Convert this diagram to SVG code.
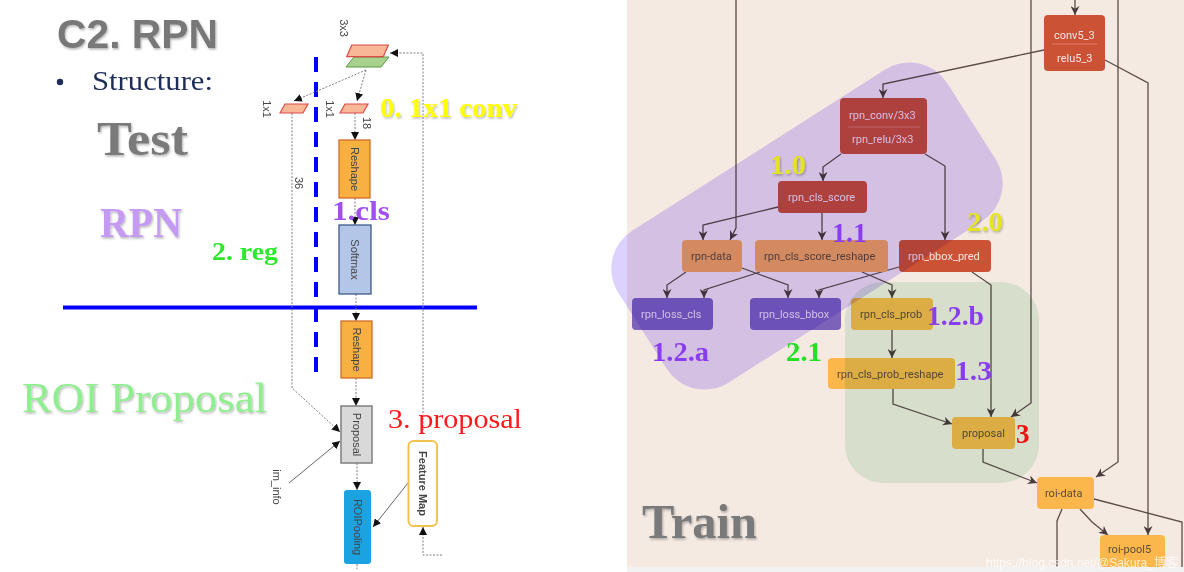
<svg xmlns="http://www.w3.org/2000/svg" width="1184" height="572" viewBox="0 0 1184 572">
<defs>
<style>
.dot{stroke:#7d7d7d;stroke-width:1;stroke-dasharray:2 1.5;fill:none}
.sol{stroke:#555;stroke-width:0.9;fill:none}
.ln{stroke:#5b4b49;stroke-width:1.3;fill:none}
.rt{font-family:"Liberation Sans",Arial,sans-serif;font-size:11px;fill:#444;text-anchor:middle;dominant-baseline:central}
.nt{font-family:Roboto,"Liberation Sans",sans-serif;font-size:11px}
.w{fill:#f4e6e4}
.d{fill:#5e4a3e}
.ser{font-family:"Liberation Serif","DejaVu Serif",serif}
.lbl{font-family:"Liberation Serif","DejaVu Serif",serif;font-weight:bold;font-size:27px}
.div{stroke:#e8a090;stroke-width:0.8;opacity:0.7}
</style>
<marker id="ah" viewBox="0 0 10 10" refX="10" refY="5" markerWidth="8" markerHeight="8" orient="auto" markerUnits="userSpaceOnUse"><path d="M0,0 L10,5 L0,10 z" fill="#111"/></marker>
<marker id="ar" viewBox="0 0 10 10" refX="10" refY="5" markerWidth="9" markerHeight="9" orient="auto" markerUnits="userSpaceOnUse"><path d="M0,0 L10,5 L0,10 L3,5 z" fill="#4a3c3c"/></marker>
<filter id="sh" x="-5%" y="-5%" width="110%" height="120%"><feDropShadow dx="1" dy="1.5" stdDeviation="0.8" flood-color="#000" flood-opacity="0.3"/></filter>
</defs>

<rect x="0" y="0" width="1184" height="572" fill="#ffffff"/>
<rect x="627" y="0" width="557" height="567" fill="#f5eae2"/>
<rect x="627" y="567" width="557" height="5" fill="#f2f2f2"/>

<!-- ================= LEFT PANEL ================= -->
<g id="titles">
<text x="57" y="48" font-family="'Liberation Sans',Arial,sans-serif" font-weight="bold" font-size="41" fill="#787878" filter="url(#sh)" textLength="161" lengthAdjust="spacingAndGlyphs">C2. RPN</text>
<circle cx="60" cy="82" r="3.2" fill="#1f2d5a"/>
<text x="92" y="90" class="ser" font-size="27" fill="#1f2d5a" textLength="121" lengthAdjust="spacingAndGlyphs">Structure:</text>
<text x="97" y="155" class="ser" font-weight="bold" font-size="48" fill="#7a7a7a" filter="url(#sh)" textLength="91" lengthAdjust="spacingAndGlyphs">Test</text>
<text x="100" y="237" class="ser" font-weight="bold" font-size="43" fill="#c49af2" filter="url(#sh)" textLength="82" lengthAdjust="spacingAndGlyphs">RPN</text>
<text x="212" y="260" class="ser" font-weight="bold" font-size="25" fill="#2ee82e" textLength="66" lengthAdjust="spacingAndGlyphs">2. reg</text>
<text x="22" y="412" class="ser" font-size="42" fill="#90ee90" filter="url(#sh)" textLength="245" lengthAdjust="spacingAndGlyphs">ROI Proposal</text>
</g>

<g id="dividers">
<line x1="63" y1="307.5" x2="477" y2="307.5" stroke="#0000ff" stroke-width="4"/>
<line x1="316" y1="57" x2="316" y2="377" stroke="#0000ff" stroke-width="4" stroke-dasharray="15 10"/>
</g>

<g id="left-connectors">
<path class="dot" d="M366,70 L294,101" marker-end="url(#ah)"/>
<path class="dot" d="M366,70 L357,101" marker-end="url(#ah)"/>
<path class="dot" d="M355,113 V140" marker-end="url(#ah)"/>
<path class="dot" d="M355,198 V225" marker-end="url(#ah)"/>
<path class="dot" d="M356,294 V321" marker-end="url(#ah)"/>
<path class="dot" d="M356,378 V406" marker-end="url(#ah)"/>
<path class="dot" d="M357,463 V490" marker-end="url(#ah)"/>
<path class="dot" d="M292,113 V388 L340,432" marker-end="url(#ah)"/>
<path class="sol" d="M289,483 L340,441" marker-end="url(#ah)"/>
<path class="sol" d="M408,483 L373,527" marker-end="url(#ah)"/>
<path class="dot" d="M442,555 H423 V527" marker-end="url(#ah)"/>
<path class="dot" d="M423,434 V53 H390" marker-end="url(#ah)"/>
<path class="dot" d="M357,564 V569"/>
</g>

<g id="conv3x3">
<polygon points="346,67 354,57 389,57 381,67" fill="#a9d18e" stroke="#5a9a40" stroke-width="1"/>
<polygon points="346.7,56.7 351.7,45 388.3,45 383.3,56.7" fill="#f8b898" stroke="#e04848" stroke-width="1.2"/>
<text class="rt" transform="translate(344,28) rotate(90)">3x3</text>
</g>
<g id="conv1x1-reg">
<polygon points="280,113 285,104 308,104 303,113" fill="#f8b898" stroke="#e04848" stroke-width="1.2"/>
<text class="rt" transform="translate(267,109) rotate(90)">1x1</text>
<text class="rt" transform="translate(299,183) rotate(90)">36</text>
</g>
<g id="conv1x1-cls">
<polygon points="340,113 345,104 368,104 363,113" fill="#f8b898" stroke="#e04848" stroke-width="1.2"/>
<text class="rt" transform="translate(330,109) rotate(90)">1x1</text>
<text class="rt" transform="translate(367,123) rotate(90)">18</text>
</g>
<text x="380" y="117" class="lbl" font-size="28" fill="#ffff00" filter="url(#sh)" textLength="137" lengthAdjust="spacingAndGlyphs">0. 1x1 conv</text>

<g id="reshape1">
<rect x="339" y="140" width="31" height="58" fill="#f8b040" stroke="#cf6e2a" stroke-width="1.3"/>
<text class="rt" font-size="10.5" fill="#5a4a30" transform="translate(354.5,169) rotate(90)">Reshape</text>
</g>
<text x="332" y="220" class="lbl" font-size="27" fill="#a24ff0" textLength="58" lengthAdjust="spacingAndGlyphs">1.cls</text>
<g id="softmax">
<rect x="339" y="225" width="32" height="69" fill="#b4c6e7" stroke="#3e5a8a" stroke-width="1.3"/>
<text class="rt" font-size="15" fill="#333" transform="translate(355,259.5) rotate(90)">Softmax</text>
</g>
<g id="reshape2">
<rect x="341" y="321" width="31" height="57" fill="#f8b040" stroke="#cf6e2a" stroke-width="1.3"/>
<text class="rt" font-size="10.5" fill="#5a4a30" transform="translate(356.5,349.5) rotate(90)">Reshape</text>
</g>
<g id="proposal-test">
<rect x="341" y="406" width="31" height="57" fill="#d9d9d9" stroke="#7f7f7f" stroke-width="1.5"/>
<text class="rt" font-size="11" fill="#555" transform="translate(356.5,434.5) rotate(90)">Proposal</text>
</g>
<text x="388" y="428" class="ser" font-size="28" fill="#ff1a1a" textLength="134" lengthAdjust="spacingAndGlyphs">3. proposal</text>
<g id="im_info">
<text class="rt" font-size="11" fill="#333" transform="translate(277,487) rotate(90)">im_info</text>
</g>
<g id="roipooling">
<rect x="344" y="490" width="27" height="74" rx="3" fill="#1aa3e0"/>
<text class="rt" font-size="12" fill="#333" transform="translate(357.5,527) rotate(90)">ROIPooling</text>
</g>
<g id="featuremap">
<rect x="408.5" y="441" width="28.5" height="85" rx="5" fill="#ffffff" stroke="#f2c24e" stroke-width="2"/>
<text class="rt" font-size="11" font-weight="bold" fill="#111" transform="translate(422.7,483.5) rotate(90)">Feature Map</text>
</g>

<!-- ================= RIGHT PANEL ================= -->
<g id="right-connectors">
<path class="ln" d="M1075,0 V15" marker-end="url(#ar)"/>
<path class="ln" d="M736,0 V228 L730,240" marker-end="url(#ar)"/>
<path class="ln" d="M1031,0 V403 L1011,417" marker-end="url(#ar)"/>
<path class="ln" d="M1118,0 V462 L1096,477" marker-end="url(#ar)"/>
<path class="ln" d="M1044,50 L883,84 V98" marker-end="url(#ar)"/>
<path class="ln" d="M1105,60 L1148,83 V535" marker-end="url(#ar)"/>
<path class="ln" d="M841,154 L823,167 V181" marker-end="url(#ar)"/>
<path class="ln" d="M925,154 L945,166 V240" marker-end="url(#ar)"/>
<path class="ln" d="M778,207 L703,225 V240" marker-end="url(#ar)"/>
<path class="ln" d="M822,213 V240" marker-end="url(#ar)"/>
<path class="ln" d="M686,272 L667,285 V298" marker-end="url(#ar)"/>
<path class="ln" d="M742,268 L788,285 V298" marker-end="url(#ar)"/>
<path class="ln" d="M760,272 L704,290 V298" marker-end="url(#ar)"/>
<path class="ln" d="M862,272 L892,285 V298" marker-end="url(#ar)"/>
<path class="ln" d="M899,267 L819,290 V298" marker-end="url(#ar)"/>
<path class="ln" d="M972,272 L991,285 V417" marker-end="url(#ar)"/>
<path class="ln" d="M892,330 V358" marker-end="url(#ar)"/>
<path class="ln" d="M893,389 V404 L952,424" marker-end="url(#ar)"/>
<path class="ln" d="M983,449 V462 L1037,483" marker-end="url(#ar)"/>
<path class="ln" d="M1080,509 L1092,522 L1108,535" marker-end="url(#ar)"/>
<path class="ln" d="M1062,509 L1057,521 V567"/>
<path class="ln" d="M1094,499 L1182,522 V567"/>
</g>

<g id="conv5_3">
<rect x="1044" y="15" width="61" height="56" rx="4" fill="#cc5236"/>
<line class="div" x1="1052" y1="44" x2="1097" y2="44"/>
<text class="nt w" x="1054" y="39">conv5_3</text>
<text class="nt w" x="1057" y="62">relu5_3</text>
</g>
<g id="rpn_conv">
<rect x="840" y="98" width="87" height="56" rx="4" fill="#c94e3e"/>
<line class="div" x1="848" y1="127" x2="920" y2="127"/>
<text class="nt w" x="849" y="119">rpn_conv/3x3</text>
<text class="nt w" x="852" y="143">rpn_relu/3x3</text>
</g>
<g id="rpn_cls_score">
<rect x="778" y="181" width="89" height="32" rx="4" fill="#c94e3e"/>
<text class="nt w" x="788" y="201">rpn_cls_score</text>
</g>
<g id="rpn-data">
<rect x="682" y="240" width="60" height="32" rx="4" fill="#f4a860"/>
<text class="nt d" x="691" y="260">rpn-data</text>
</g>
<g id="rpn_cls_score_reshape">
<rect x="755" y="240" width="133" height="32" rx="4" fill="#f4a860"/>
<text class="nt d" x="764" y="260" font-size="10.6">rpn_cls_score_reshape</text>
</g>
<g id="rpn_bbox_pred">
<rect x="899" y="240" width="92" height="32" rx="4" fill="#cc5236"/>
<text class="nt w" x="908" y="260">rpn_bbox_pred</text>
</g>
<g id="rpn_loss_cls">
<rect x="632" y="298" width="81" height="32" rx="4" fill="#7c62b8"/>
<text class="nt w" x="641" y="318" font-size="10.6">rpn_loss_cls</text>
</g>
<g id="rpn_loss_bbox">
<rect x="750" y="298" width="91" height="32" rx="4" fill="#7c62b8"/>
<text class="nt w" x="759" y="318">rpn_loss_bbox</text>
</g>
<g id="rpn_cls_prob">
<rect x="851" y="298" width="82" height="32" rx="4" fill="#fbb74c"/>
<text class="nt d" x="860" y="318" font-size="10.6">rpn_cls_prob</text>
</g>
<g id="rpn_cls_prob_reshape">
<rect x="828" y="358" width="127" height="31" rx="4" fill="#fbb74c"/>
<text class="nt d" x="837" y="378" font-size="10.6">rpn_cls_prob_reshape</text>
</g>
<g id="proposal">
<rect x="952" y="417" width="63" height="32" rx="4" fill="#fbb74c"/>
<text class="nt d" x="962" y="437">proposal</text>
</g>
<g id="roi-data">
<rect x="1037" y="477" width="57" height="32" rx="4" fill="#fbb74c"/>
<text class="nt d" x="1045" y="497">roi-data</text>
</g>
<g id="roi-pool5">
<rect x="1100" y="535" width="65" height="32" rx="4" fill="#fbb74c"/>
<text class="nt d" x="1108" y="553">roi-pool5</text>
</g>

<g id="overlays">
<g transform="translate(807,226) rotate(-32.5)">
<rect x="-195" y="-90" width="390" height="180" rx="45" fill="#ddd2ff" style="mix-blend-mode:multiply"/>
</g>
<rect x="845" y="282" width="194" height="201" rx="38" fill="#e0f2e6" style="mix-blend-mode:multiply"/>
</g>

<g id="train-labels">
<text x="770" y="174" class="lbl" font-size="25" fill="#e4e420" filter="url(#sh)" textLength="36" lengthAdjust="spacingAndGlyphs">1.0</text>
<text x="832" y="242" class="lbl" font-size="26" fill="#8a3cf0" textLength="35" lengthAdjust="spacingAndGlyphs">1.1</text>
<text x="967" y="231" class="lbl" font-size="25" fill="#e4e420" filter="url(#sh)" textLength="36" lengthAdjust="spacingAndGlyphs">2.0</text>
<text x="927" y="325" class="lbl" font-size="26" fill="#8a3cf0" textLength="57" lengthAdjust="spacingAndGlyphs">1.2.b</text>
<text x="955" y="380" class="lbl" font-size="26" fill="#8a3cf0" textLength="37" lengthAdjust="spacingAndGlyphs">1.3</text>
<text x="652" y="361" class="lbl" font-size="26" fill="#8a3cf0" textLength="57" lengthAdjust="spacingAndGlyphs">1.2.a</text>
<text x="786" y="361" class="lbl" font-size="26" fill="#22e022" textLength="36" lengthAdjust="spacingAndGlyphs">2.1</text>
<text x="1016" y="443" class="lbl" font-size="27" fill="#ee1111">3</text>
<text x="642" y="538" class="ser" font-weight="bold" font-size="48" fill="#7a7a7a" filter="url(#sh)" textLength="115" lengthAdjust="spacingAndGlyphs">Train</text>
</g>
<text x="986" y="567" font-family="'Liberation Sans',Arial,'Noto Sans CJK SC',sans-serif" font-size="12.5" fill="#ffffff" opacity="0.75" textLength="192" lengthAdjust="spacingAndGlyphs">https://blog.csdn.net/@Sakura_博客</text>
</svg>
